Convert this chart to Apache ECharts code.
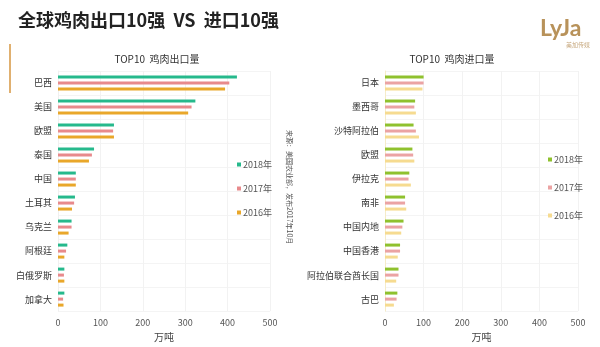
<!DOCTYPE html>
<html><head><meta charset="utf-8">
<script src="https://cdn.jsdelivr.net/npm/echarts@6/dist/echarts.min.js"></script>
<style>html,body{margin:0;padding:0;background:#fff}#c{width:600px;height:347px}</style>
</head><body><div id="c"></div>
<script>
const exportCats = ['巴西','美国','欧盟','泰国','中国','土耳其','乌克兰','阿根廷','白俄罗斯','加拿大'];
const export2018 = [422,324,132,85,42,40,32,22,15,15];
const export2017 = [404,315,130,80,42,38,32,19,14,12];
const export2016 = [394,307,132,73,42,33,25,15,15,13];
const importCats = ['日本','墨西哥','沙特阿拉伯','欧盟','伊拉克','南非','中国内地','中国香港','阿拉伯联合酋长国','古巴'];
const import2018 = [100,78,74,71,63,52,48,39,35,32];
const import2017 = [100,76,80,73,61,52,45,39,35,30];
const import2016 = [97,80,88,76,67,55,42,33,29,23];
const years = ['2018年','2017年','2016年'];
const xTicks = [0,100,200,300,400,500];

const font = '"Noto Sans CJK SC", "Noto Sans", sans-serif';
const chart = echarts.init(document.getElementById('c'));
const expColors = ['#26b98c','#e88a8c','#e9a72a'];
const impColors = ['#8fc12e','#eba3a3','#f6db90'];
function xAxis(gi){
  return {type:'value',gridIndex:gi,min:xTicks[0],max:xTicks[xTicks.length-1],interval:100,
    name:'万吨',nameLocation:'middle',nameGap:19,nameTextStyle:{fontSize:10,color:'#444',fontFamily:font},
    axisLine:{show:false},axisTick:{show:false},
    axisLabel:{fontSize:9,color:'#555',fontFamily:font,margin:7},
    splitLine:{lineStyle:{color:'#f2f2f2'}}};
}
function yAxis(gi,cats,lineColor){
  return {type:'category',gridIndex:gi,data:cats,inverse:true,
    axisLine:{show:true,lineStyle:{color:lineColor}},axisTick:{show:false},
    axisLabel:{fontSize:9,color:'#333',fontFamily:font,margin:6},
    splitLine:{show:true,lineStyle:{color:'#f4f4f4'}}};
}
const series=[];
[export2018,export2017,export2016].forEach((d,i)=>series.push({name:years[i],type:'bar',xAxisIndex:0,yAxisIndex:0,data:d,barWidth:3,barGap:'100%',itemStyle:{color:expColors[i]}}));
[import2018,import2017,import2016].forEach((d,i)=>series.push({name:years[i]+' ',type:'bar',xAxisIndex:1,yAxisIndex:1,data:d,barWidth:3,barGap:'100%',itemStyle:{color:impColors[i]}}));

chart.setOption({
  animation:false,
  textStyle:{fontFamily:font},
  title:[
    {text:'全球鸡肉出口10强  VS  进口10强',left:13,top:6,textStyle:{fontSize:18,fontWeight:'bold',color:'#222',fontFamily:font}},
    {text:'TOP10  鸡肉出口量',left:152,top:49,textAlign:'center',textStyle:{fontSize:10,fontWeight:'normal',color:'#333',fontFamily:font}},
    {text:'TOP10  鸡肉进口量',left:447,top:49,textAlign:'center',textStyle:{fontSize:10,fontWeight:'normal',color:'#333',fontFamily:font}}
  ],
  legend:[
    {data:years,orient:'vertical',left:232,top:155,itemWidth:4,itemHeight:4,itemGap:15,icon:'rect',
      textStyle:{fontSize:9,color:'#555',fontFamily:font,padding:[0,0,0,-3]}},
    {data:years.map(y=>y+' '),orient:'vertical',left:543,top:150,itemWidth:4,itemHeight:4,itemGap:19,icon:'rect',
      textStyle:{fontSize:9,color:'#555',fontFamily:font,padding:[0,0,0,-3]}}
  ],
  grid:[
    {left:58,right:330,top:71,bottom:31},
    {left:385,right:22,top:71,bottom:31}
  ],
  xAxis:[xAxis(0),xAxis(1)],
  yAxis:[yAxis(0,exportCats,'#f0f0f0'),yAxis(1,importCats,'#f6ecc8')],
  series:series,
  graphic:[
    {type:'rect',left:9,top:44,shape:{width:2,height:49},style:{fill:'#e0b070'}},
    {type:'text',left:540,top:17,style:{text:'LyJa',fontSize:23,fontWeight:'bold',fontFamily:'Lato, sans-serif',fill:'#b8925a'}},
    {type:'text',left:566,top:42,style:{text:'美加传媒',fontSize:6,fontFamily:font,fill:'#c8aa80'}},
    {type:'text',x:293,y:130,rotation:-Math.PI/2,style:{text:'来源：美国农业部，发布2017年10月',fontSize:7,fontFamily:font,fill:'#555'}}
  ]
});
</script></body></html>
